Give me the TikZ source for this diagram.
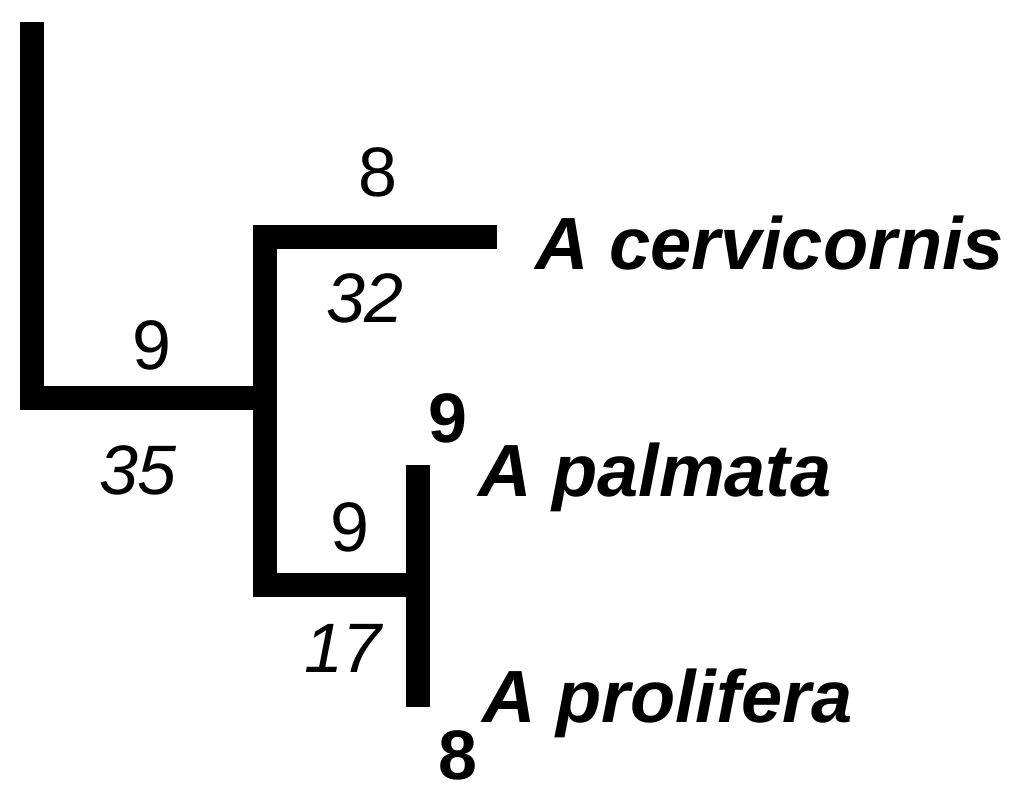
\documentclass[tikz,border=0pt]{standalone}
\usepackage{fontspec}
\setmainfont{Liberation Sans}
\begin{document}
\begin{tikzpicture}[x=1pt,y=-1pt,
  br/.style={line width=24pt,line join=miter},
  num/.style={font=\fontsize{70}{72}\selectfont,inner sep=0pt},
  inum/.style={font=\fontsize{70}{72}\selectfont\itshape,inner sep=0pt},
  bnum/.style={font=\fontsize{70}{72}\selectfont\bfseries,inner sep=0pt},
  sp/.style={font=\fontsize{74}{76}\selectfont\bfseries\itshape,inner sep=0pt,anchor=west}]
\useasboundingbox (0,0) rectangle (1024,794);
\coordinate (r0) at (32,22);
\coordinate (r1) at (32,398);
\coordinate (n1) at (265,398);
\coordinate (c0) at (265,237);
\coordinate (c1) at (497,237);
\coordinate (p0) at (265,585);
\coordinate (p1) at (418,585);
\coordinate (pa) at (418,465);
\coordinate (pr) at (418,707);
\draw[br] (r0) -- (r1) -- (20,398);
\draw[br] (r1) -- (n1);
\draw[br] (253,237) -- (c1);
\draw[br] (c0) -- (p0);
\draw[br] (253,585) -- (p1);
\draw[br] (pa) -- (pr);
\node[num] (l8a) at (378,172) {8};
\node[sp] (sc) at (535,243) {A cervicornis};
\node[inum] (l32) at (365,298) {32};
\node[num] (l9a) at (152,345) {9};
\node[inum] (l35) at (138,470) {35};
\node[bnum] (l9b) at (448,418) {9};
\node[sp] (spa) at (478,477) {A palmata};
\node[num] (l9c) at (350,527) {9};
\node[inum] (l17) at (343,648) {17};
\node[sp] (spr) at (482,703) {A prolifera};
\node[bnum] (l8b) at (458,755) {8};
\end{tikzpicture}
\end{document}
